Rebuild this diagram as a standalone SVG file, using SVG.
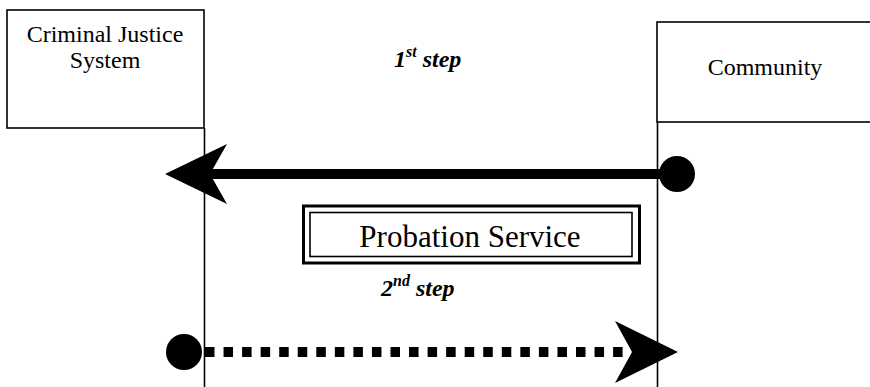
<svg xmlns="http://www.w3.org/2000/svg" width="870" height="387" viewBox="0 0 870 387">
<style>
.box{fill:#fff;stroke:#000;stroke-width:1.6}
text{font-family:'Liberation Serif','DejaVu Serif',serif;fill:#000}
.lbl{font-size:24px;text-anchor:middle}
.step{font-size:24px;font-weight:bold;font-style:italic}
.sup{font-size:16px}
.vline{stroke:#000;stroke-width:1.6}
</style>
<rect width="870" height="387" fill="#fff"/>
<g id="cjs">
<rect class="box" x="7" y="10" width="197" height="118"/>
<text class="lbl" x="105" y="42">Criminal Justice</text>
<text class="lbl" x="105" y="68">System</text>
</g>
<g id="community">
<rect class="box" x="657" y="22" width="230" height="100"/>
<text class="lbl" x="765" y="75">Community</text>
</g>
<g id="probation">
<rect x="303.5" y="206" width="336" height="57" fill="#fff" stroke="#000" stroke-width="3"/>
<rect x="310" y="212.5" width="322" height="44" fill="none" stroke="#000" stroke-width="1.6"/>
<text class="lbl" x="470" y="247" style="font-size:31px">Probation Service</text>
</g>
<g id="step1">
<text class="step" x="394" y="67">1<tspan class="sup" dy="-10">st</tspan><tspan dy="10"> step</tspan></text>
</g>
<g id="step2">
<text class="step" x="381" y="296">2<tspan class="sup" dy="-10">nd</tspan><tspan dy="10"> step</tspan></text>
</g>
<g id="connectors">
<line class="vline" x1="204.5" y1="128" x2="204.5" y2="387"/>
<line class="vline" x1="657.5" y1="122" x2="657.5" y2="387"/>
<line x1="208" y1="174" x2="677" y2="174" stroke="#000" stroke-width="10"/>
<polygon points="165,174 227,144 210,174 227,204" fill="#000"/>
<circle cx="677" cy="174" r="18" fill="#000"/>
<line x1="205" y1="352" x2="624" y2="352" stroke="#000" stroke-width="10" stroke-dasharray="9.5 9.05"/>
<polygon points="678,352 615,321 632,352 615,383" fill="#000"/>
<circle cx="184" cy="352" r="18" fill="#000"/>
</g>
</svg>
